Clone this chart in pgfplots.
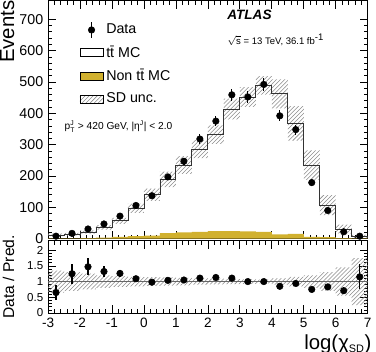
\documentclass[border=0pt]{standalone}
\usepackage{fontspec}
\setmainfont{Liberation Sans}
\usepackage{pgfplots}
\pgfplotsset{compat=1.18}
\usepackage{pgfplotstable}
\usepgfplotslibrary{fillbetween}
\usetikzlibrary{patterns}
\definecolor{nontt}{HTML}{D1B12F}
\definecolor{hatch}{HTML}{8C8C8C}

% data points: centre, events, error, data/pred, error on ratio
\pgfplotstableread{
x y ey r er
-2.75 8 2 0.65 0.24
-2.25 17 5 1.25 0.32
-1.75 31 8 1.47 0.27
-1.25 47 9 1.32 0.19
-0.75 72 9 1.26 0.12
-0.25 106 8 1.09 0.06
0.25 137 8 0.98 0.05
0.75 197 10 1.04 0.05
1.25 247 12 1.05 0.05
1.75 318 15 1.11 0.05
2.25 375 17 1.13 0.05
2.75 459 20 1.11 0.05
3.25 452 20 1.00 0.04
3.75 492 20 1.00 0.04
4.25 392 18 0.85 0.05
4.75 348 16 0.94 0.05
5.25 179 10 0.75 0.06
5.75 90 7 0.83 0.08
6.25 22 3 0.71 0.12
6.75 8 3 1.15 0.40
}\datatab

% histograms, left bin edges (last row closes the last bin)
\pgfplotstableread{
xl mc lo hi bg rlo rhi
-3.0 12 7.8 16.2 1 0.65 1.35
-2.5 14 9.8 18.2 1 0.70 1.30
-2.0 21 15.8 26.2 2 0.75 1.25
-1.5 36 28.8 43.2 3 0.80 1.20
-1.0 57 47.3 66.7 6 0.83 1.17
-0.5 97 82.5 111.5 8 0.85 1.15
0.0 140 120.4 159.6 10 0.86 1.14
0.5 189 164.4 213.6 18 0.87 1.13
1.0 235 206.8 263.2 20 0.88 1.12
1.5 286 257.4 314.6 22 0.90 1.10
2.0 332 302.1 361.9 24 0.91 1.09
2.5 414 380.9 447.1 24 0.92 1.08
3.0 452 420.4 483.6 23 0.93 1.07
3.5 489 459.7 518.3 22 0.94 1.06
4.0 462 415.8 508.2 14 0.90 1.10
4.5 368 312.8 423.2 15 0.85 1.15
5.0 235 188.0 282.0 6 0.80 1.20
5.5 107 74.9 139.1 5 0.70 1.30
6.0 31 17.1 45.0 2 0.55 1.45
6.5 7 1.8 12.3 1 0.25 1.75
7.0 7 1.8 12.3 1 0.25 1.75
}\mctab

\begin{document}
\begin{tikzpicture}
\pgfplotsset{
  every axis/.append style={
    scale only axis,
    width=235.5pt,
    xmin=-3, xmax=7,
    xtick={-3,-2,...,7},
    minor x tick num=4,
    tick align=inside,
    major tick length=6pt,
    minor tick length=3pt,
    axis line style={line width=0.7pt},
    every tick/.style={black, line width=0.5pt},
    /pgf/number format/assume math mode=true,
  },
}
\begin{axis}[
  name=main,
  height=175.5pt,
  ymin=0, ymax=760,
  ytick={0,100,...,700},
  minor y tick num=4,
  xticklabels={},
  yticklabel style={font=\fontsize{10.5}{12}\selectfont},
  ylabel={Events},
  ylabel style={font=\fontsize{15}{17}\selectfont, at={(rel axis cs:-0.105,1)}, anchor=south east, inner sep=0pt},
  legend cell align=left,
  legend style={at={(rel axis cs:0.085,0.925)}, anchor=north west, draw=none, fill=none,
    font=\fontsize{10.5}{12}\selectfont, row sep=3.5pt},
]
\addplot[const plot, fill=nontt, draw=none, forget plot] table[x=xl, y=bg] {\mctab} \closedcycle;
\addplot[const plot, draw=none, name path=hi, forget plot] table[x=xl, y=hi] {\mctab};
\addplot[const plot, draw=none, name path=lo, forget plot] table[x=xl, y=lo] {\mctab};
\addplot[pattern=north east lines, pattern color=hatch, forget plot] fill between[of=hi and lo];
\addplot[const plot, draw=black!80, line width=0.6pt, forget plot] table[x=xl, y=mc] {\mctab};
\addplot[only marks, mark=*, mark size=2.4pt, black, forget plot,
  error bars/.cd, y dir=both, y explicit, error mark=none,
  error bar style={line width=0.9pt}]
  table[x=x, y=y, y error=ey] {\datatab};

\addlegendimage{legend image code/.code={
  \draw[line width=0.9pt] (0.3cm,-0.2cm)--(0.3cm,0.2cm);
  \fill (0.3cm,0cm) circle (2.4pt);}}
\addlegendentry{Data}
\addlegendimage{area legend, draw=black, fill=white, line width=0.6pt}
\addlegendentry{t\={t} MC}
\addlegendimage{area legend, draw=none, fill=nontt}
\addlegendentry{Non t\={t} MC}
\addlegendimage{area legend, draw=none, pattern=north east lines, pattern color=hatch}
\addlegendentry{SD unc.}

\node[anchor=west, inner sep=0pt, font=\bfseries\itshape\fontsize{10}{11}\selectfont]
  at (rel axis cs:0.56,0.94) {ATLAS};
\node[anchor=west, inner sep=0pt, font=\fontsize{7}{8}\selectfont]
  at (rel axis cs:0.56,0.835) {$\sqrt{\mbox{s}}$ = 13 TeV, 36.1 fb$^{\mbox{\scriptsize -1}}$};
\node[anchor=west, inner sep=0pt, font=\fontsize{7.5}{8}\selectfont]
  at (rel axis cs:0.051,0.47) {p$^{\mbox{\tiny J}}_{\mbox{\tiny T}}$ > 420 GeV, |η$^{\mbox{\tiny J}}$| < 2.0};
\end{axis}

\begin{axis}[
  at={(main.south west)}, anchor=north west, yshift=-1.5pt,
  height=53.25pt,
  ymin=0, ymax=2.3,
  ytick={0,0.5,1,1.5,2},
  minor y tick num=4,
  yticklabel style={font=\fontsize{8.5}{10}\selectfont},
  xticklabel style={font=\fontsize{10}{12}\selectfont},
  ylabel={Data / Pred.},
  ylabel style={font=\fontsize{11.5}{13}\selectfont, at={(rel axis cs:-0.105,0.5)}, anchor=south, inner sep=0pt},
  xlabel={log(χ$_{\mbox{\fontsize{8}{9}\selectfont SD}}$)},
  xlabel style={font=\fontsize{15}{17}\selectfont, at={(rel axis cs:1,0)}, anchor=north east, inner sep=0pt, yshift=-16pt, xshift=3pt},
]
\addplot[const plot, draw=none, name path=rhi] table[x=xl, y=rhi] {\mctab};
\addplot[const plot, draw=none, name path=rlo] table[x=xl, y=rlo] {\mctab};
\addplot[pattern=north east lines, pattern color=hatch] fill between[of=rhi and rlo];
\addplot[draw=black!60, line width=0.8pt] coordinates {(-3,1) (7,1)};
\addplot[only marks, mark=*, mark size=2.4pt, black,
  error bars/.cd, y dir=both, y explicit, error mark=none,
  error bar style={line width=0.9pt}]
  table[x=x, y=r, y error=er] {\datatab};
\end{axis}
\end{tikzpicture}
\end{document}
